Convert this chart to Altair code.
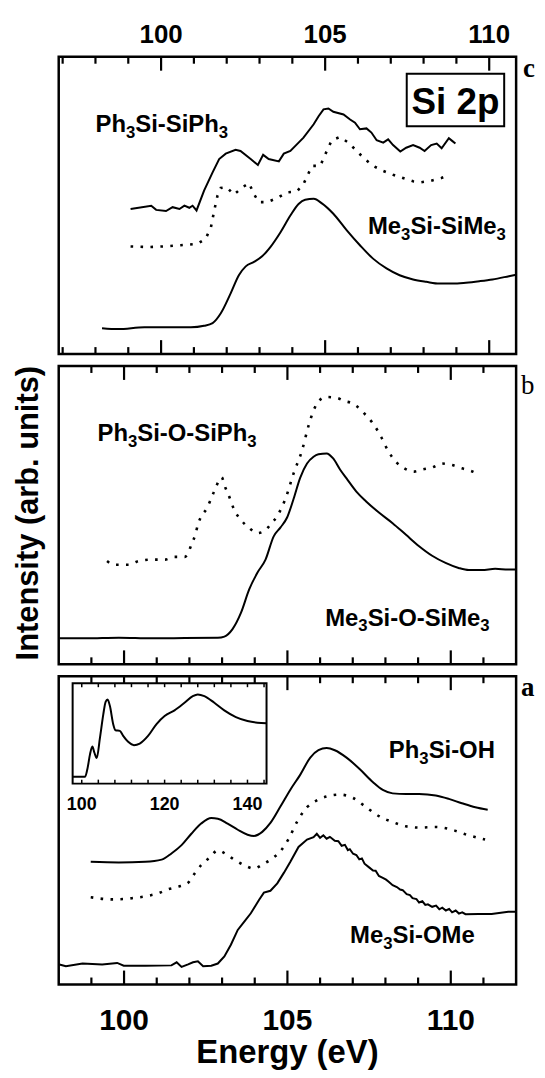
import altair as alt
import pandas as pd

FONT = "Liberation Sans"
SERIF = "Liberation Serif"

# ---------------- Panel c : Si-Si compounds ----------------
c_ph_E = [99.07, 99.70, 99.85, 100.15, 100.35, 100.56, 100.71, 100.86, 100.96, 101.08, 101.31, 101.57,
          101.77, 101.97, 102.27, 102.42, 102.73, 102.95, 103.11, 103.28, 103.59, 103.74, 103.94, 104.19,
          104.34, 104.65, 104.80, 104.95, 105.10, 105.25, 105.56, 105.76, 105.91, 106.06, 106.26, 106.41,
          106.57, 106.77, 106.92, 107.07, 107.29, 107.47, 107.68, 107.88, 108.03, 108.23, 108.40, 108.55,
          108.77, 108.87, 108.97]
c_ph_I = [48.8, 49.9, 48.5, 48.1, 49.4, 48.8, 49.9, 49.2, 49.9, 48.3, 55.0, 61.1,
          65.6, 67.4, 68.7, 68.3, 65.6, 63.6, 67.0, 65.6, 64.8, 67.4, 68.3, 71.1,
          72.8, 77.3, 80.0, 82.3, 82.6, 81.5, 80.6, 78.9, 77.8, 75.6, 75.9, 74.5,
          71.9, 71.1, 72.2, 70.3, 68.1, 69.4, 70.3, 69.4, 68.3, 70.3, 70.8, 69.2,
          72.6, 71.7, 70.8]

c_dot_E = [99.07, 99.6, 100.1, 100.6, 101.11, 101.36, 101.52, 101.62, 101.72, 101.82, 102.0, 102.22,
           102.48, 102.68, 102.83, 102.98, 103.23, 103.54, 103.84, 104.14, 104.34, 104.6, 104.85, 105.05,
           105.20, 105.45, 105.71, 105.96, 106.21, 106.46, 106.77, 107.07, 107.37, 107.68, 107.93, 108.23,
           108.54, 108.81]
c_dot_I = [36.2, 36.0, 36.2, 36.6, 37.1, 38.8, 42.7, 48.3, 53.3, 55.9, 56.1, 53.6,
           56.1, 57.5, 53.8, 51.1, 51.1, 52.5, 54.4, 54.7, 57.2, 63.3, 63.3, 68.3,
           71.9, 73.0, 71.1, 68.3, 65.6, 63.3, 61.6, 60.3, 59.2, 58.1, 57.8, 58.3,
           59.2, 60.3]

c_me_E = [98.20, 98.69, 99.49, 100.2, 100.91, 101.31, 101.57, 101.82, 102.12, 102.37, 102.58, 102.83,
          103.08, 103.33, 103.64, 103.94, 104.19, 104.39, 104.65, 104.9, 105.25, 105.66, 106.06, 106.46,
          106.87, 107.27, 107.68, 108.08, 108.48, 108.89, 109.29, 109.70, 110.1, 110.6, 110.82]
c_me_I = [8.7, 8.4, 9.0, 9.0, 9.0, 9.5, 10.4, 13.7, 20.4, 26.5, 29.5, 31.0,
          32.9, 36.0, 41.0, 46.6, 50.5, 51.9, 52.2, 50.7, 47.2, 41.6, 36.6, 32.1,
          28.8, 26.5, 25.1, 24.3, 23.7, 23.7, 24.0, 24.5, 25.1, 26.2, 26.7]

# ---------------- Panel b : Si-O-Si compounds ----------------
b_ph_E = [99.48, 99.69, 100.14, 100.45, 100.85, 101.25, 101.55, 101.86, 101.96, 102.06, 102.18, 102.26,
          102.36, 102.52, 102.67, 102.82, 102.92, 102.99, 103.07, 103.22, 103.37, 103.58, 103.83, 104.08,
          104.28, 104.48, 104.74, 104.94, 105.19, 105.45, 105.65, 105.80, 106.0, 106.2, 106.51, 106.76,
          106.96, 107.16, 107.36, 107.62, 107.87, 108.07, 108.32, 108.58, 108.88, 109.13, 109.43, 109.74,
          110.04, 110.34, 110.60, 110.85]
b_ph_I = [34.6, 33.4, 33.4, 34.6, 35.1, 35.1, 36.0, 36.0, 37.3, 40.1, 43.4, 46.8,
          49.6, 52.0, 55.7, 59.6, 62.0, 62.7, 60.1, 56.2, 51.8, 48.4, 45.7, 44.0,
          44.6, 46.8, 50.7, 55.5, 64.0, 71.8, 80.1, 85.1, 88.7, 89.6, 89.3, 88.2,
          87.6, 86.2, 84.0, 80.7, 76.2, 71.8, 67.9, 65.7, 64.6, 65.3, 66.0, 67.3,
          66.8, 65.7, 64.9, 63.8]

b_me_E = [98.02, 98.83, 99.84, 100.85, 101.86, 102.87, 103.07, 103.32, 103.58, 103.83, 104.08, 104.33,
          104.58, 104.79, 104.99, 105.19, 105.39, 105.6, 105.8, 105.95, 106.2, 106.40, 106.61, 106.81,
          107.11, 107.41, 107.82, 108.22, 108.63, 109.03, 109.43, 109.84, 110.24, 110.55, 110.95, 111.36,
          111.76, 111.97]
b_me_I = [8.7, 8.7, 8.9, 8.7, 8.8, 8.9, 9.3, 11.8, 17.3, 25.1, 30.7, 35.1,
          42.9, 45.9, 49.2, 55.5, 62.5, 67.3, 69.6, 70.4, 70.7, 69.0, 65.3, 62.3,
          57.9, 54.6, 50.7, 47.3, 43.4, 39.6, 36.4, 34.0, 32.3, 31.6, 31.6, 32.0,
          31.8, 31.8]

# ---------------- Panel a : Si-O compounds ----------------
a_ph_E = [98.98, 99.84, 100.65, 101.15, 101.45, 101.76, 102.06, 102.36, 102.67, 102.87, 103.17, 103.48,
          103.78, 103.98, 104.23, 104.48, 104.79, 105.09, 105.39, 105.7, 105.95, 106.2, 106.45, 106.81,
          107.21, 107.62, 107.92, 108.22, 108.63, 109.03, 109.54, 109.94, 110.34, 110.75, 111.13]
a_ph_I = [39.8, 39.6, 39.8, 40.5, 42.5, 45.2, 48.9, 52.2, 54.0, 53.8, 52.2, 50.2,
          48.6, 48.2, 49.5, 52.4, 57.8, 63.2, 68.0, 73.6, 76.0, 76.7, 76.0, 73.6,
          69.9, 65.6, 63.1, 62.0, 61.8, 61.8, 61.3, 60.2, 58.8, 57.5, 56.7]

a_dot_E = [98.98, 99.64, 100.24, 100.75, 101.05, 101.35, 101.66, 101.96, 102.16, 102.36, 102.62, 102.87,
           103.12, 103.37, 103.68, 103.98, 104.23, 104.54, 104.79, 105.04, 105.29, 105.6, 105.9, 106.2,
           106.61, 107.01, 107.41, 107.82, 108.22, 108.63, 109.03, 109.54, 110.04, 110.45, 111.05]
a_dot_I = [28.3, 27.6, 28.0, 28.8, 29.6, 30.9, 31.7, 33.0, 36.0, 38.7, 41.2, 43.5,
           42.3, 40.5, 38.7, 37.6, 38.9, 40.9, 43.3, 47.3, 52.7, 57.5, 59.7, 61.0,
           61.6, 60.5, 57.5, 54.5, 52.7, 51.3, 50.9, 51.1, 50.2, 48.7, 47.0]

a_me_E = [98.02, 98.22, 98.73, 99.33, 99.79, 99.99, 100.65, 101.45, 101.61, 101.76, 101.96, 102.11,
          102.26, 102.42, 102.67, 102.87, 103.07, 103.27, 103.48, 103.68, 103.88, 104.13, 104.28, 104.48,
          104.69, 104.89, 105.09, 105.34, 105.6, 105.8, 105.9, 106.0, 106.1, 106.2, 106.3, 106.45,
          106.56, 106.66, 106.76, 106.85, 106.91, 107.01, 107.11, 107.2, 107.28, 107.36, 107.5, 107.62,
          107.7, 107.8, 107.92, 108.02, 108.1, 108.22, 108.35, 108.45, 108.53, 108.65, 108.75, 108.83,
          108.95, 109.03, 109.13, 109.22, 109.3, 109.43, 109.55, 109.65, 109.74, 109.85, 109.95, 110.04,
          110.15, 110.25, 110.35, 110.45, 110.85, 111.25, 111.76, 112.0]
a_me_I = [6.5, 5.9, 6.8, 6.5, 7.0, 6.1, 6.1, 6.2, 7.2, 5.7, 6.5, 7.2,
          7.5, 5.9, 6.1, 6.8, 9.1, 12.9, 17.7, 20.4, 23.1, 27.4, 29.8, 30.4,
          32.8, 36.2, 39.8, 44.6, 47.0, 47.8, 48.9, 47.6, 48.4, 47.3, 47.9, 46.6,
          46.5, 45.0, 45.3, 43.6, 43.9, 42.4, 42.0, 40.6, 40.9, 39.2, 38.0, 37.0,
          36.9, 35.2, 34.6, 34.0, 33.3, 32.2, 31.6, 30.8, 30.6, 29.3, 29.0, 28.0,
          27.7, 26.6, 27.0, 25.8, 26.0, 25.2, 25.6, 24.4, 24.9, 24.0, 24.5, 23.4,
          24.0, 23.0, 23.4, 22.8, 22.9, 22.9, 23.6, 23.6]

# inset (wide energy range spectrum)
ins_E = [97.77, 100.8, 101.44, 102.0, 102.56, 103.04, 103.6, 104.4, 105.2, 105.76, 106.24, 106.8,
         107.6, 108.15, 109.2, 110.0, 111.2, 112.6, 114.0, 116.0, 118.0, 120.0, 122.4, 124.8,
         126.8, 128.0, 129.6, 132.0, 134.4, 137.2, 140.0, 142.4, 144.6]
ins_I = [6.9, 6.9, 16.2, 29.4, 36.9, 31.0, 25.4, 45.8, 69.0, 81.5, 83.8, 77.2,
         59.1, 53.1, 52.5, 47.5, 41.6, 38.3, 39.9, 47.5, 59.1, 67.3, 73.0, 80.5,
         87.1, 88.8, 87.1, 80.5, 73.0, 66.3, 62.4, 60.7, 60.1]
ins_ticks = [100, 104, 108, 112, 116, 120, 124, 128, 132, 136, 140, 144]
ins_labels = [100, 120, 140]

# ticks and labels of the main axes
c_minor = [97, 98, 99, 101, 102, 103, 104, 106, 107, 108, 109]
c_major = [100, 105, 110]
ab_minor = [99, 101, 102, 103, 104, 106, 107, 108, 109, 111]
ab_major = [100, 105, 110]
axis_labels = [100, 105, 110]
x_title = "Energy (eV)"
y_title = "Intensity (arb. units)"

c_names = [[("Ph", 0), ("3", 1), ("Si-SiPh", 0), ("3", 1)],
           [("Me", 0), ("3", 1), ("Si-SiMe", 0), ("3", 1)]]
b_names = [[("Ph", 0), ("3", 1), ("Si-O-SiPh", 0), ("3", 1)],
           [("Me", 0), ("3", 1), ("Si-O-SiMe", 0), ("3", 1)]]
a_names = [[("Ph", 0), ("3", 1), ("Si-OH", 0)],
           [("Me", 0), ("3", 1), ("Si-OMe", 0)]]

W = 460
HC, HB, HA = 299, 300, 310
ONE = pd.DataFrame({"k": [0]})
YS = alt.Scale(domain=[0, 100], nice=False, zero=False)

ARIAL_BOLD = {"P": 667, "h": 611, "S": 667, "i": 278, "-": 333, "O": 778, "M": 833,
              "e": 556, "H": 722, "3": 556}


def curve(E, I, xs, dotted=False, interp="linear", ys=YS):
    df = pd.DataFrame({"E": E, "I": I})
    kw = dict(color="black", strokeWidth=2, interpolate=interp)
    if dotted:
        kw.update(strokeDash=[2.6, 7.4], strokeWidth=2.6)
    return alt.Chart(df).mark_line(**kw).encode(
        x=alt.X("E:Q", scale=xs, axis=None),
        y=alt.Y("I:Q", scale=ys, axis=None),
    )


def tick_layers(minor, major, xs, H, lmin=7, lmaj=14, sw=2.2):
    out = []
    for vals, L in ((minor, lmin), (major, lmaj)):
        df = pd.DataFrame({"t": vals})
        base = alt.Chart(df).mark_rule(color="black", strokeWidth=sw)
        out.append(base.encode(x=alt.X("t:Q", scale=xs, axis=None), y=alt.value(0), y2=alt.value(L)))
        out.append(base.encode(x=alt.X("t:Q", scale=xs, axis=None), y=alt.value(H), y2=alt.value(H - L)))
    return out


def tick_labels(vals, xs, y, size):
    return alt.Chart(pd.DataFrame({"t": vals})).mark_text(
        font=FONT, fontSize=size, fontWeight="bold", align="center", baseline="alphabetic",
        color="black").encode(x=alt.X("t:Q", scale=xs, axis=None), y=alt.value(y), text="t:N")


def chem(parts, x0, y0, size=24):
    out = []
    x = x0
    for txt, sub in parts:
        fs = size * 0.7 if sub else size
        dy = 6 if sub else 0
        out.append(alt.Chart(ONE).mark_text(
            text=txt, font=FONT, fontSize=fs, fontWeight="bold", align="left",
            baseline="alphabetic", color="black").encode(x=alt.value(x), y=alt.value(y0 + dy)))
        x += sum(ARIAL_BOLD[ch] for ch in txt) / 1000 * fs
    return out


def letter(t, x, y, bold=True):
    return alt.Chart(ONE).mark_text(
        text=t, font=SERIF, fontSize=27, fontWeight="bold" if bold else "normal",
        align="left", baseline="alphabetic", color="black").encode(x=alt.value(x), y=alt.value(y))


# ---------- panel c ----------
xs_c = alt.Scale(domain=[96.88, 110.82], nice=False, zero=False)
box = alt.Chart(ONE).mark_rect(fill="white", stroke="black", strokeWidth=2).encode(
    x=alt.value(350), x2=alt.value(448), y=alt.value(17), y2=alt.value(70))
si2p = alt.Chart(ONE).mark_text(text="Si 2p", font=FONT, fontSize=37, fontWeight="bold",
                                align="center", baseline="alphabetic", color="black").encode(
    x=alt.value(399), y=alt.value(58))
panel_c = alt.layer(
    curve(c_ph_E, c_ph_I, xs_c),
    curve(c_dot_E, c_dot_I, xs_c, dotted=True),
    curve(c_me_E, c_me_I, xs_c, interp="monotone"),
    *tick_layers(c_minor, c_major, xs_c, HC),
    tick_labels(axis_labels, xs_c, -14, 26),
    box, si2p,
    *chem(c_names[0], 37, 76),
    *chem(c_names[1], 311, 178),
    letter("c", 467, 20),
).properties(width=W, height=HC)

# ---------- panel b ----------
xs_ab = alt.Scale(domain=[98.0, 112.0], nice=False, zero=False)
ytitle = alt.Chart(ONE).mark_text(text=y_title, font=FONT, fontSize=31,
                                  fontWeight="bold", angle=270, align="center",
                                  baseline="alphabetic", color="black").encode(
    x=alt.value(-21), y=alt.value(148))
panel_b = alt.layer(
    curve(b_me_E, b_me_I, xs_ab, interp="monotone"),
    curve(b_ph_E, b_ph_I, xs_ab, dotted=True, interp="monotone"),
    *tick_layers(ab_minor, ab_major, xs_ab, HB),
    *chem(b_names[0], 39, 75),
    *chem(b_names[1], 268, 261),
    letter("b", 465, 28, bold=False),
    ytitle,
).properties(width=W, height=HB)

# ---------- panel a ----------
xtitle = alt.Chart(ONE).mark_text(text=x_title, font=FONT, fontSize=33, fontWeight="bold",
                                  align="center", baseline="alphabetic", color="black").encode(
    x=alt.value(W / 2), y=alt.value(HA + 79))
main_a = alt.layer(
    curve(a_me_E, a_me_I, xs_ab),
    curve(a_ph_E, a_ph_I, xs_ab, interp="monotone"),
    curve(a_dot_E, a_dot_I, xs_ab, dotted=True, interp="monotone"),
    *tick_layers(ab_minor, ab_major, xs_ab, HA),
    tick_labels(axis_labels, xs_ab, HA + 46, 30),
    xtitle,
    *chem(a_names[0], 332, 82),
    *chem(a_names[1], 293, 268),
    letter("a", 465, 20),
)
xs_in = alt.Scale(domain=[97.8, 144.6], range=[14, 209], nice=False, zero=False)
ys_in = alt.Scale(domain=[0, 100], range=[108, 7], nice=False, zero=False)
in_frame = alt.Chart(ONE).mark_rect(fill="white", stroke="black", strokeWidth=2).encode(
    x=alt.value(14), x2=alt.value(209), y=alt.value(7), y2=alt.value(108))
in_tick_df = pd.DataFrame({"t": ins_ticks})
in_ticks_b = alt.Chart(in_tick_df).mark_rule(color="black", strokeWidth=1.5).encode(
    x=alt.X("t:Q", scale=xs_in, axis=None), y=alt.value(108), y2=alt.value(104))
in_ticks_t = alt.Chart(in_tick_df).mark_rule(color="black", strokeWidth=1.5).encode(
    x=alt.X("t:Q", scale=xs_in, axis=None), y=alt.value(7), y2=alt.value(11))
in_lab = alt.Chart(pd.DataFrame({"t": ins_labels})).mark_text(
    font=FONT, fontSize=18, fontWeight="bold", baseline="middle", align="center", color="black").encode(
    x=alt.X("t:Q", scale=xs_in, axis=None), y=alt.value(130), text="t:N")
inset = alt.layer(
    in_frame,
    curve(ins_E, ins_I, xs_in, interp="monotone", ys=ys_in),
    in_ticks_b, in_ticks_t, in_lab,
)
panel_a = alt.layer(main_a, inset).resolve_scale(x="independent", y="independent").properties(
    width=W, height=HA)

chart = alt.vconcat(panel_c, panel_b, panel_a, spacing=12, bounds="flush").resolve_scale(
    x="independent", y="independent"
).properties(
    padding={"left": 3, "top": 9, "right": 0, "bottom": 0}
).configure_view(stroke="black", strokeWidth=2.5)

chart.save("out.html", embed_options={"renderer": "svg", "actions": False})
